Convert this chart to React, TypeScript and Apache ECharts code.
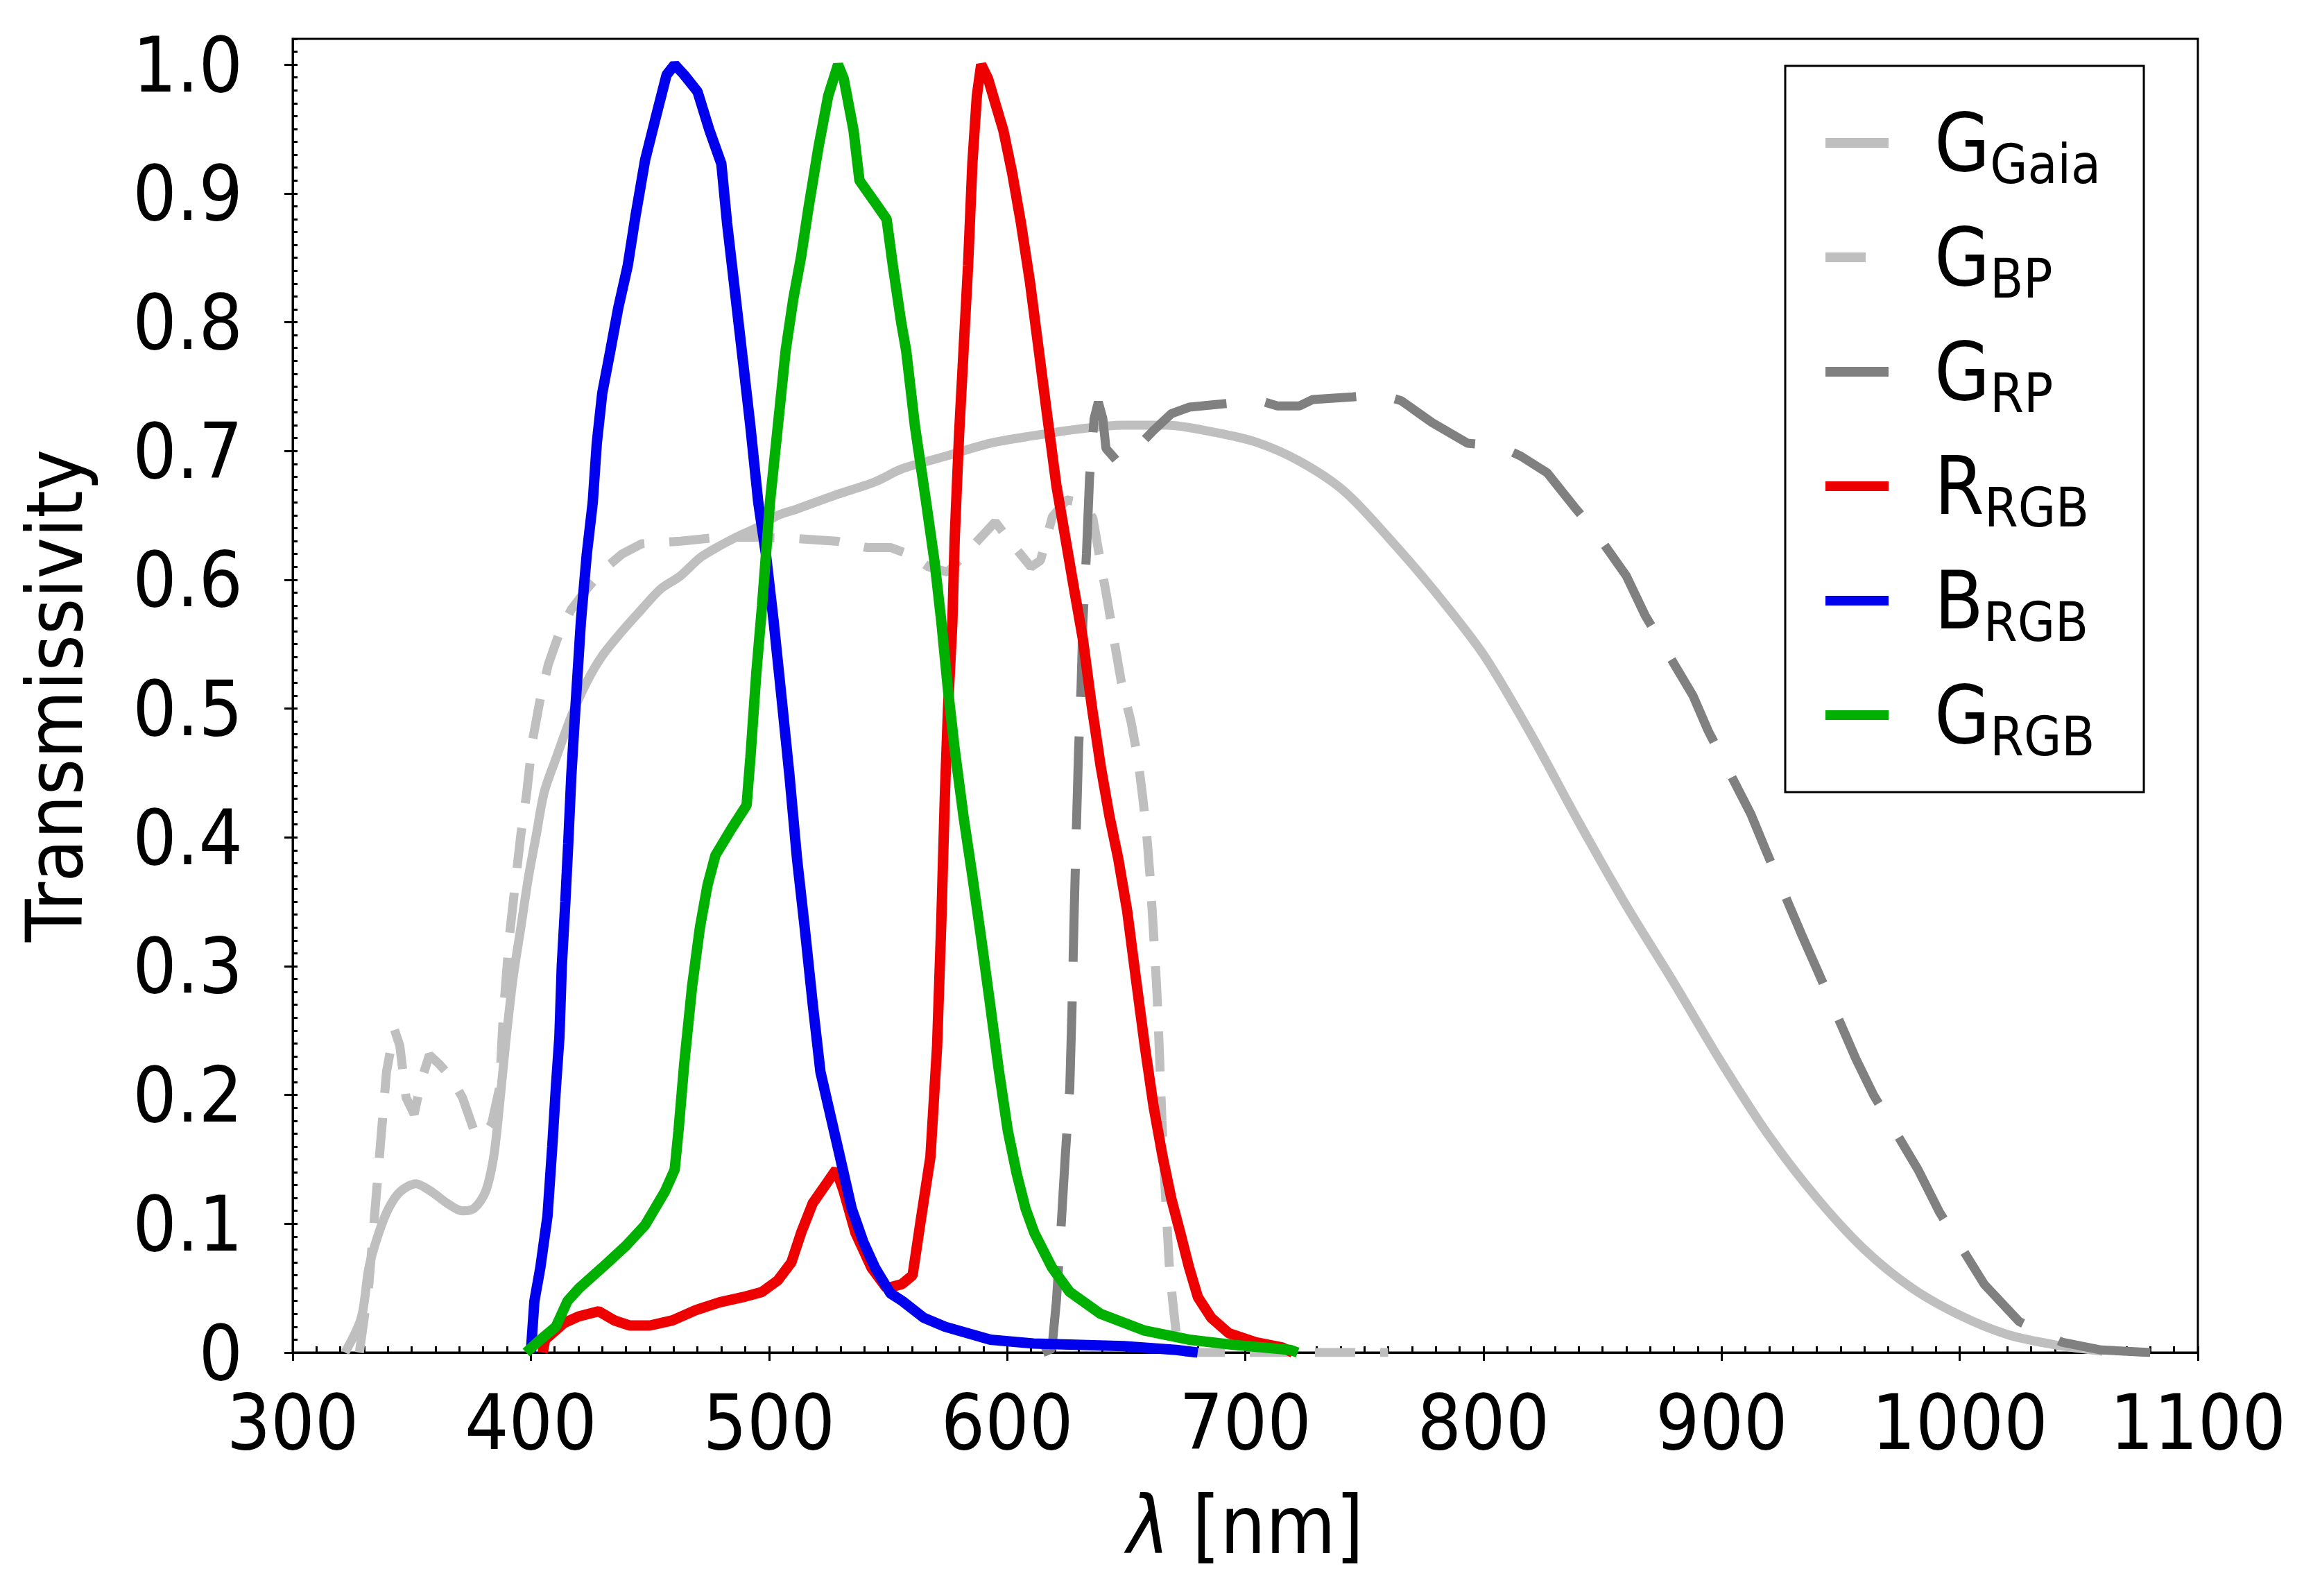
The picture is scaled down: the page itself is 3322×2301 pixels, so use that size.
import { useEffect, useRef } from 'react';
import * as echarts from 'echarts';

const FONT = "'DejaVu Sans Condensed', 'DejaVu Sans', sans-serif";

const seriesNames = ['G_Gaia', 'G_BP', 'G_RP', 'R_RGB', 'B_RGB', 'G_RGB'];
const legendMain = ['G', 'G', 'G', 'R', 'B', 'G'];
const legendSub = ['Gaia', 'BP', 'RP', 'RGB', 'RGB', 'RGB'];
const yTicks = [0, 0.1, 0.2, 0.3, 0.4, 0.5, 0.6, 0.7, 0.8, 0.9, 1.0];

// [wavelength nm, transmissivity]
const gGaia: [number, number][] = [
  [322, 0], [328.8, 0.027], [332, 0.066], [336.2, 0.093], [340.3, 0.112], [345.2, 0.125],
  [351.7, 0.131], [358.2, 0.125], [364.8, 0.116], [371.3, 0.11], [376.2, 0.112], [381, 0.125],
  [384.4, 0.152], [386.8, 0.191], [389.3, 0.238], [392.5, 0.29], [395.8, 0.33], [399, 0.369],
  [402.3, 0.402], [405.6, 0.435], [410.5, 0.461], [417, 0.494], [423.6, 0.521], [430, 0.541],
  [438.3, 0.56], [446.5, 0.577], [454.6, 0.593], [462.8, 0.603], [471, 0.617], [479, 0.626],
  [487.3, 0.634], [495.5, 0.641], [503.7, 0.65], [511.8, 0.655], [528.2, 0.666], [544.5, 0.676],
  [555.7, 0.686], [574.3, 0.696], [592.8, 0.706], [611.4, 0.712], [630, 0.717], [648.6, 0.72],
  [667, 0.72], [685.7, 0.715], [704.3, 0.707], [722.8, 0.692], [741.4, 0.669], [760, 0.633],
  [780, 0.59], [800, 0.542], [820, 0.48], [840, 0.412], [860, 0.347], [880, 0.287],
  [900, 0.225], [920, 0.168], [940, 0.12], [960, 0.08], [980, 0.05], [1000, 0.029],
  [1020, 0.014], [1040, 0.006], [1060, 0.001],
];

const gBp: [number, number][] = [
  [328, 0], [332, 0.053], [337, 0.165], [339.4, 0.218], [342.7, 0.251], [345, 0.238],
  [347.6, 0.198], [351, 0.185], [354, 0.211], [357.4, 0.231], [361.5, 0.224], [366.4, 0.214],
  [371.3, 0.198], [376.2, 0.172], [380.3, 0.168], [383.6, 0.178], [386.8, 0.205], [388.5, 0.264],
  [391, 0.323], [393.4, 0.363], [395.8, 0.402], [398.3, 0.435], [400.7, 0.475], [404, 0.508],
  [407.3, 0.534], [412.2, 0.56], [417, 0.577], [423.6, 0.593], [430, 0.607], [438.3, 0.62],
  [446.5, 0.628], [462.8, 0.63], [479, 0.633], [495.5, 0.633], [511.8, 0.632], [528.2, 0.63],
  [541.2, 0.625], [551, 0.625], [560, 0.619], [567, 0.61], [575, 0.606], [585, 0.625],
  [595, 0.645], [602, 0.628], [610, 0.61], [614, 0.615], [619, 0.649], [625, 0.662],
  [631, 0.66], [636, 0.648], [639, 0.616], [642, 0.585], [645, 0.552], [648, 0.52],
  [652, 0.49], [655, 0.46], [657, 0.43], [658.5, 0.405], [660, 0.37], [661, 0.34],
  [662, 0.31], [663, 0.276], [664, 0.23], [665, 0.18], [666, 0.14], [667, 0.105],
  [668, 0.07], [669.5, 0.04], [671, 0.015], [673, 0], [760, 0],
];

const gRp: [number, number][] = [
  [615, 0], [618.8, 0.003], [620.7, 0.04], [622.5, 0.093], [624.4, 0.152], [626.3, 0.205],
  [627.2, 0.264], [628.1, 0.337], [629, 0.402], [630, 0.468], [631, 0.514], [631.8, 0.567],
  [633.3, 0.62], [634.6, 0.679], [636.5, 0.725], [638.3, 0.738], [640.2, 0.725], [641.5, 0.702],
  [646.7, 0.691], [654.1, 0.702], [661.5, 0.716], [669, 0.729], [676.4, 0.734], [693.1, 0.737],
  [704.3, 0.74], [713.5, 0.735], [722.8, 0.735], [728.4, 0.74], [745, 0.742], [756.3, 0.744],
  [765.5, 0.739], [778.5, 0.722], [793.4, 0.706], [806.4, 0.704], [815.7, 0.696], [826.8, 0.683],
  [838, 0.657], [847, 0.637], [860, 0.603], [868, 0.572], [888, 0.51], [894.3, 0.483],
  [912.3, 0.418], [918.8, 0.389], [933.5, 0.325], [940.9, 0.294], [956.4, 0.228], [963.8, 0.2],
  [982.5, 0.142], [991.5, 0.109], [1010.3, 0.053], [1025, 0.024], [1043, 0.008], [1059.4, 0.002],
  [1080, 0],
];

const rRgb: [number, number][] = [
  [405, 0], [406, 0.01], [414, 0.023], [420, 0.028], [428.5, 0.032], [435, 0.025],
  [441.6, 0.021], [450, 0.021], [459.5, 0.025], [469.4, 0.033], [479.2, 0.039], [489, 0.043],
  [497, 0.047], [503.7, 0.056], [509.4, 0.07], [513.5, 0.093], [518.4, 0.116], [523.3, 0.129],
  [528.2, 0.142], [531.4, 0.125], [536.3, 0.093], [543, 0.066], [549.4, 0.05], [555.7, 0.053],
  [560.3, 0.06], [564, 0.106], [567.8, 0.152], [570.6, 0.238], [572.4, 0.337], [573.9, 0.435],
  [575.2, 0.501], [577, 0.567], [578, 0.633], [579.8, 0.712], [581.7, 0.778], [583.6, 0.844],
  [585.4, 0.923], [587.3, 0.976], [589.1, 1.0], [592, 0.989], [594.7, 0.972], [598.4, 0.949],
  [602.1, 0.916], [605.8, 0.877], [609.6, 0.831], [613.3, 0.778], [617, 0.725], [620.7, 0.673],
  [624.4, 0.633], [628.1, 0.593], [631.8, 0.554], [635.6, 0.501], [639.3, 0.455], [643, 0.416],
  [646.7, 0.383], [650.4, 0.343], [654.1, 0.29], [657.8, 0.238], [661.5, 0.191], [665.3, 0.152],
  [669, 0.119], [672.7, 0.093], [676.4, 0.066], [680.1, 0.043], [685.7, 0.027], [693.1, 0.015],
  [704.3, 0.008], [715.4, 0.004], [720, 0],
];

const bRgb: [number, number][] = [
  [400, 0], [401.5, 0.04], [404, 0.066], [407, 0.106], [409, 0.16], [410.5, 0.205],
  [412, 0.245], [413, 0.3], [414.5, 0.35], [415.7, 0.395], [417, 0.448], [418.7, 0.5],
  [421, 0.567], [423.5, 0.62], [426, 0.66], [427.7, 0.706], [430, 0.745], [433.4, 0.778],
  [436.7, 0.811], [440.7, 0.844], [444, 0.883], [448, 0.926], [453, 0.963], [457, 0.992],
  [460.4, 1.0], [464.4, 0.992], [470, 0.979], [475, 0.949], [480, 0.923], [482.4, 0.877],
  [485.7, 0.824], [489, 0.771], [492.2, 0.719], [495.5, 0.66], [498.7, 0.62], [502, 0.567],
  [505.3, 0.508], [508.6, 0.448], [511.8, 0.383], [515, 0.33], [518.4, 0.27], [521.6, 0.218],
  [525.7, 0.185], [529.8, 0.152], [534.7, 0.112], [539.6, 0.086], [544.5, 0.066], [551, 0.046],
  [556, 0.04], [565, 0.027], [574, 0.02], [593, 0.01], [611, 0.007], [649, 0.005],
  [671, 0.002], [680, 0],
];

const gRgb: [number, number][] = [
  [398, 0], [404, 0.01], [410.5, 0.02], [415.4, 0.04], [420.3, 0.05], [430, 0.066],
  [440, 0.083], [448, 0.099], [456.3, 0.125], [460.4, 0.142], [462, 0.172], [464.4, 0.224],
  [467.7, 0.284], [471, 0.33], [474.2, 0.363], [477.5, 0.386], [484, 0.406], [490.6, 0.425],
  [492.2, 0.462], [494.7, 0.528], [497.1, 0.58], [500.4, 0.66], [503.7, 0.719], [507, 0.778],
  [510.2, 0.818], [513.5, 0.851], [516.7, 0.89], [520.8, 0.936], [524.9, 0.976], [529, 1.0],
  [531.4, 0.989], [535.5, 0.949], [538, 0.91], [544.5, 0.893], [549.4, 0.88], [552, 0.844],
  [555.5, 0.8], [557.6, 0.778], [561.3, 0.719], [566, 0.66], [569.6, 0.613], [572.4, 0.567],
  [575.2, 0.514], [578, 0.468], [581.7, 0.416], [585.4, 0.37], [589, 0.323], [592.8, 0.271],
  [596.6, 0.218], [600.3, 0.172], [604, 0.139], [607.7, 0.112], [611.4, 0.093], [618.8, 0.066],
  [626.3, 0.047], [639.3, 0.03], [657.8, 0.017], [676.4, 0.01], [695, 0.006], [719, 0.002],
  [722, 0],
];

const seriesData = [gGaia, gBp, gRp, rRgb, bRgb, gRgb];
const seriesColors = ['#bfbfbf', '#bfbfbf', '#808080', '#ee0000', '#0000ee', '#00b000'];
const seriesWidths = [13, 13, 13, 15, 15, 15];
const seriesDash: (number[] | 'solid')[] = ['solid', [58, 36], [134, 57], 'solid', 'solid', 'solid'];
const seriesSmooth = [0.3, 0, 0, 0, 0, 0];

const minorY: number[] = [];
for (let i = 0; i <= 102; i++) minorY.push(i / 100);

export default function App() {
  const chartRef = useRef<HTMLDivElement>(null);

  useEffect(() => {
    if (!chartRef.current) return;
    const chart = echarts.init(chartRef.current, undefined, { renderer: 'svg' });

    const axisLineStyle = { color: '#000', width: 3 };

    const option: echarts.EChartsOption = {
      animation: false,
      backgroundColor: '#fff',
      textStyle: { fontFamily: FONT },
      grid: {
        left: 422,
        right: 153,
        top: 56,
        bottom: 351,
        show: true,
        borderColor: '#000',
        borderWidth: 3,
        backgroundColor: 'transparent',
      },
      legend: {
        orient: 'vertical',
        left: 2574,
        top: 95,
        padding: [41, 62, 41, 51],
        itemGap: 25,
        itemWidth: 91,
        itemHeight: 30,
        backgroundColor: '#fff',
        borderColor: '#000',
        borderWidth: 3,
        borderRadius: 0,
        selectedMode: false,
        data: seriesNames,
        lineStyle: { width: 14 },
        itemStyle: { opacity: 0 },
        formatter: (name: string) => {
          const i = seriesNames.indexOf(name);
          return `{sp| }{m|${legendMain[i]}}{s|${legendSub[i]}}`;
        },
        textStyle: {
          fontFamily: FONT,
          fontSize: 115,
          lineHeight: 140,
          color: '#000',
          rich: {
            sp: { width: 61, fontSize: 115, lineHeight: 140 },
            m: { fontSize: 115, lineHeight: 140, color: '#000', fontFamily: FONT },
            s: {
              fontSize: 78,
              lineHeight: 80,
              verticalAlign: 'bottom',
              color: '#000',
              fontFamily: FONT,
            },
          },
        },
      },
      xAxis: [
        {
          type: 'value',
          min: 300,
          max: 1100,
          interval: 100,
          name: '{i|λ} [nm]',
          nameLocation: 'middle',
          nameGap: 191,
          nameTextStyle: {
            fontSize: 115,
            color: '#000',
            fontFamily: FONT,
            rich: { i: { fontSize: 115, fontStyle: 'italic', fontFamily: FONT, color: '#000' } },
          },
          axisLine: { lineStyle: axisLineStyle },
          axisTick: { inside: false, length: 12, lineStyle: axisLineStyle },
          axisLabel: {
            fontSize: 111,
            color: '#000',
            margin: 45,
            fontFamily: FONT,
            formatter: (v: number) => String(v),
          },
          splitLine: { show: false },
        },
        {
          type: 'value',
          min: 300,
          max: 1100,
          interval: 10,
          position: 'bottom',
          axisLine: { show: false },
          axisTick: { inside: true, length: 9, lineStyle: axisLineStyle },
          axisLabel: { show: false },
          splitLine: { show: false },
        },
      ],
      yAxis: [
        {
          type: 'value',
          min: 0,
          max: 1.02,
          name: 'Transmissivity',
          nameLocation: 'middle',
          nameGap: 287,
          nameTextStyle: { fontSize: 112, color: '#000', fontFamily: FONT },
          axisLine: { lineStyle: axisLineStyle },
          axisTick: { inside: false, length: 12, lineStyle: axisLineStyle, customValues: yTicks },
          axisLabel: {
            fontSize: 111,
            color: '#000',
            margin: 72,
            fontFamily: FONT,
            customValues: yTicks,
            formatter: (v: number) => (v === 0 ? '0' : v.toFixed(1)),
          },
          splitLine: { show: false },
        },
        {
          type: 'value',
          min: 0,
          max: 1.02,
          position: 'left',
          axisLine: { show: false },
          axisTick: { inside: true, length: 7, lineStyle: axisLineStyle, customValues: minorY },
          axisLabel: { show: false },
          splitLine: { show: false },
        },
      ],
      series: seriesNames.map((name, i) => ({
        name,
        type: 'line',
        xAxisIndex: 0,
        yAxisIndex: 0,
        data: seriesData[i],
        symbol: 'none',
        showSymbol: false,
        smooth: seriesSmooth[i],
        clip: true,
        lineStyle: {
          color: seriesColors[i],
          width: seriesWidths[i],
          type: seriesDash[i] as any,
          cap: 'butt',
        },
        itemStyle: { color: seriesColors[i] },
        z: 2 + i,
      })),
    };

    chart.setOption(option);

    return () => {
      chart.dispose();
    };
  }, []);

  return (
    <div
      ref={chartRef}
      style={{ position: 'fixed', left: 0, top: 0, width: '3322px', height: '2301px' }}
    />
  );
}
